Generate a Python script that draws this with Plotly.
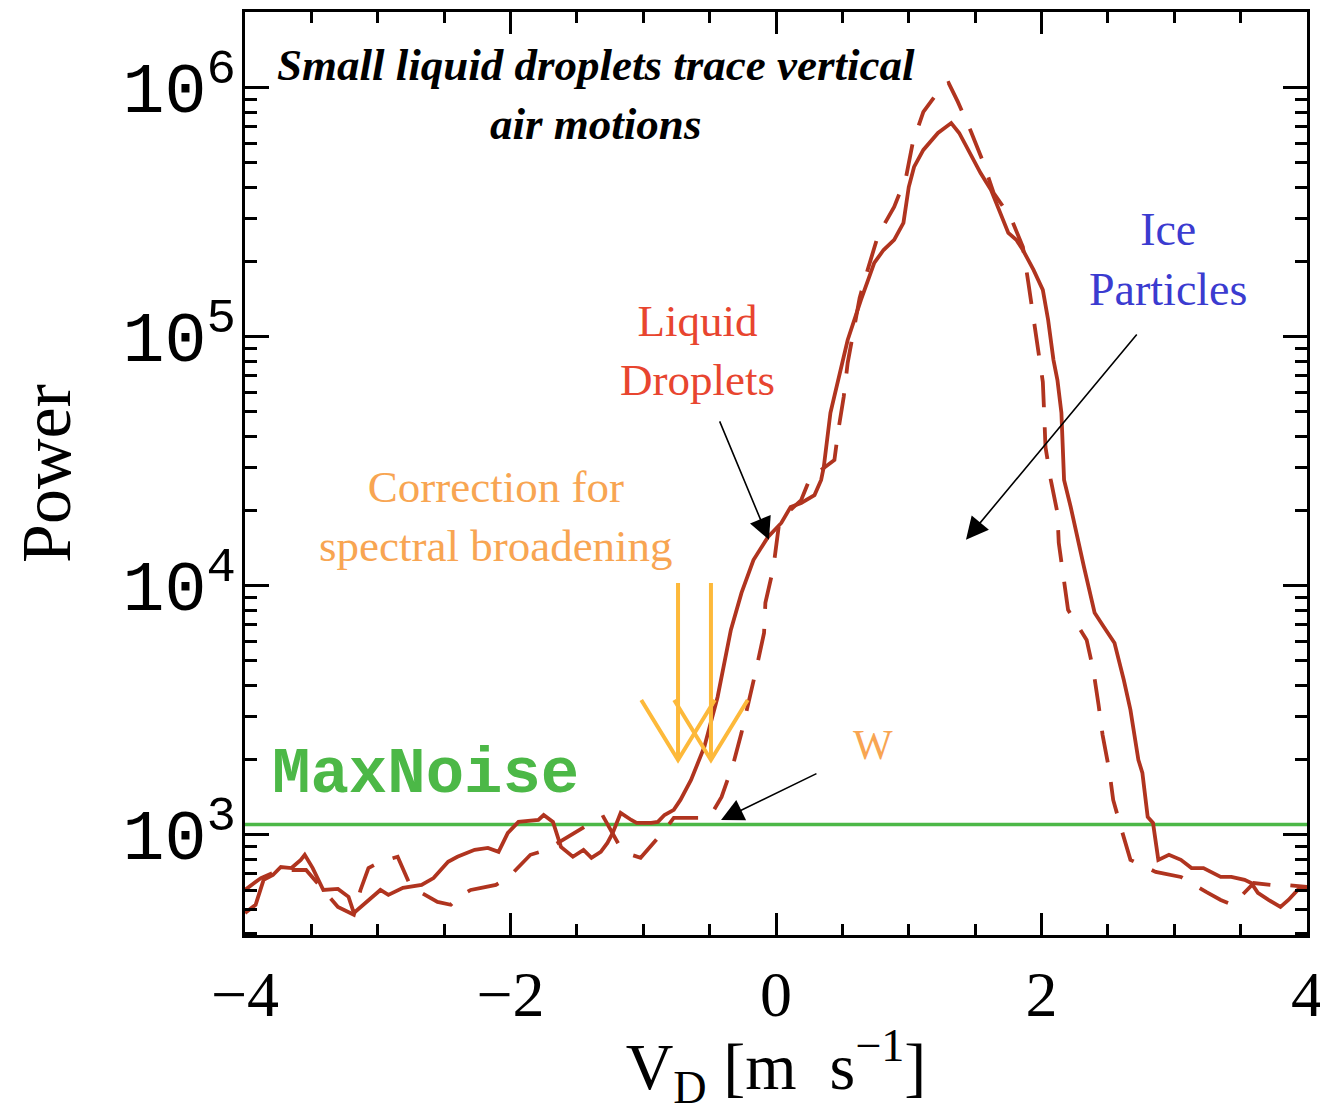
import plotly.graph_objects as go

# ---- data ----
vel_solid = [-4.00, -3.92, -3.86, -3.79, -3.73, -3.65, -3.58, -3.55, -3.49, -3.44, -3.41, -3.30, -3.22,
             -3.18, -3.11, -2.98, -2.92, -2.81, -2.67, -2.58, -2.47, -2.40, -2.27, -2.17, -2.09, -2.02,
             -1.94, -1.79, -1.75, -1.68, -1.62, -1.53, -1.45, -1.39, -1.32, -1.27, -1.23, -1.17, -1.09,
             -1.05, -0.94, -0.89, -0.84, -0.77, -0.72, -0.64, -0.54, -0.44, -0.34, -0.26, -0.17, -0.06,
             0.04, 0.11, 0.19, 0.29, 0.34, 0.36, 0.41, 0.47, 0.54, 0.64, 0.74, 0.81, 0.89, 0.96, 1.00,
             1.04, 1.11, 1.22, 1.32, 1.38, 1.45, 1.54, 1.62, 1.69, 1.75, 1.81, 1.86, 1.94, 2.01, 2.05,
             2.09, 2.12, 2.15, 2.17, 2.22, 2.32, 2.40, 2.47, 2.55, 2.62, 2.67, 2.73, 2.76, 2.80, 2.84,
             2.88, 2.96, 3.05, 3.13, 3.22, 3.35, 3.43, 3.53, 3.58, 3.63, 3.71, 3.80, 3.86, 3.93, 4.00]
power_solid = [486, 524, 660, 690, 743, 736, 794, 832, 736, 641, 601, 607, 564,
               486, 524, 601, 574, 613, 630, 671, 780, 817, 871, 887, 855, 1019,
               1128, 1148, 1202, 1128, 895, 817, 871, 809, 855, 929, 1019, 1225, 1148,
               1117, 1117, 1128, 1202, 1260, 1382, 1663, 2255, 3581, 6653, 9376, 12710, 15740,
               17900, 20750, 21530, 23170, 26650, 30060, 49550, 68400, 97200, 140900, 198200, 223400,
               245500, 287100, 400000, 481600, 563600, 659600, 722800, 659600, 563600, 456000, 389000,
               314800, 261800, 245500, 223400, 185800, 154500, 117000, 80900, 67100, 49550, 26650,
               20750, 11910, 7800, 6840, 5900, 4190, 3177, 2000, 1774, 1181, 1117, 794, 832, 794, 736,
               736, 678, 678, 660, 641, 585, 548, 514, 548, 601, 618]

vel_dashed = [-4.00, -3.88, -3.77, -3.65, -3.54, -3.43, -3.30, -3.18, -3.13, -3.07, -2.98, -2.85, -2.79,
              -2.75, -2.55, -2.45, -2.39, -2.30, -2.22, -2.11, -2.02, -1.85, -1.73, -1.58, -1.43, -1.30,
              -1.17, -1.09, -1.02, -0.85, -0.77, -0.56, -0.49, -0.41, -0.32, -0.26, -0.20, -0.15, -0.09,
              -0.08, -0.02, 0.02, 0.11, 0.19, 0.26, 0.34, 0.44, 0.47, 0.51, 0.54, 0.59, 0.63, 0.69, 0.77,
              0.89, 0.98, 1.03, 1.11, 1.26, 1.30, 1.37, 1.47, 1.56, 1.64, 1.77, 1.86, 1.90, 1.94, 1.97,
              2.01, 2.02, 2.03, 2.07, 2.12, 2.13, 2.17, 2.20, 2.34, 2.39, 2.43, 2.46, 2.51, 2.54, 2.61,
              2.67, 2.86, 2.98, 3.05, 3.24, 3.35, 3.44, 3.60, 3.73, 3.83, 4.00]
power_dashed = [601, 671, 710, 723, 723, 618, 514, 478, 601, 736, 780, 817, 690,
                618, 538, 524, 564, 601, 613, 630, 671, 832, 871, 972, 1087, 1181,
                887, 832, 809, 1028, 1170, 1170, 1202, 1421, 1945, 2570, 3480, 4600, 6470,
                8550, 11800, 17260, 20200, 22130, 27400, 29240, 32070, 42360, 57400, 78700, 109700,
                143500, 185800, 257000, 332700, 439500, 601300, 801000, 1028000, 1047000, 879000,
                665700, 504700, 378400, 300600, 229600, 166300, 120300, 91200, 65900, 49550, 36140,
                26650, 19650, 14890, 10570, 8020, 6070, 4600, 3327, 2523, 1824, 1382, 1019,
                794, 710, 690, 678, 590, 548, 524, 641, 630, 630, 618]

max_noise = 1100
vel_range = [-4, 4]

# correction-for-broadening arrows (velocity, power)
arrow_a_vel = [-1.015, -0.738, -0.461, None, -0.738, -0.738]
arrow_b_vel = [-0.767, -0.490, -0.213, None, -0.490, -0.490]
arrow_pow = [3480, 2000, 3480, None, 2000, 10280]

x_tickvals = [-4, -2, 0, 2, 4]
x_ticktext = ["\u22124", "\u22122", "0", "2", "4"]
y_tickvals = [1e3, 1e4, 1e5, 1e6]
y_ticktext = ["10<sup>3</sup>", "10<sup>4</sup>", "10<sup>5</sup>", "10<sup>6</sup>"]

RED = "#b0341f"
GREEN = "#4cb847"
GOLD = "#fdb93a"

fig = go.Figure()
fig.add_trace(go.Scatter(x=vel_range, y=[max_noise, max_noise], mode="lines",
                         line=dict(color=GREEN, width=3.5), hoverinfo="skip", showlegend=False))
fig.add_trace(go.Scatter(x=vel_dashed, y=power_dashed, mode="lines",
                         line=dict(color=RED, width=3.8, dash="32px,20px"), showlegend=False))
fig.add_trace(go.Scatter(x=vel_solid, y=power_solid, mode="lines",
                         line=dict(color=RED, width=3.8), showlegend=False))
for av in (arrow_a_vel, arrow_b_vel):
    fig.add_trace(go.Scatter(x=av, y=arrow_pow, mode="lines",
                             line=dict(color=GOLD, width=4), hoverinfo="skip", showlegend=False))

serif = "Liberation Serif"

annos = [
    dict(x=-1.356, y=5.975, text="<b><i>Small liquid droplets trace vertical<br>air motions</i></b>",
         font=dict(family=serif, size=45, color="black")),
    dict(x=-0.588, y=4.944, text="Liquid<br>Droplets", font=dict(family=serif, size=45, color="#e8452f")),
    dict(x=2.953, y=5.313, text="Ice<br>Particles", font=dict(family=serif, size=46, color="#3b3bd0")),
    dict(x=-2.109, y=4.277, text="Correction for<br>spectral broadening",
         font=dict(family=serif, size=45, color="#f8a552")),
    dict(x=0.731, y=3.361, text="W", font=dict(family=serif, size=42, color="#f8a552")),
    dict(x=-2.637, y=3.241, text="<b>MaxNoise</b>", font=dict(family="Liberation Mono", size=64, color=GREEN)),
]
for a in annos:
    fig.add_annotation(xref="x", yref="y", showarrow=False, **a)

arrows = [
    dict(ax=-0.429, ay=4.667, x=-0.053, y=4.185),
    dict(ax=2.727, ay=5.016, x=1.431, y=4.185),
    dict(ax=0.316, ay=3.249, x=-0.414, y=3.060),
]
for a in arrows:
    fig.add_annotation(xref="x", yref="y", axref="x", ayref="y", text="", showarrow=True,
                       arrowhead=2, arrowsize=2.8, arrowwidth=1.6, arrowcolor="black", **a)

fig.update_layout(
    width=1320, height=1113,
    margin=dict(l=245, r=13, t=12, b=178),
    paper_bgcolor="white", plot_bgcolor="white",
    xaxis=dict(range=[-4, 4], tickvals=x_tickvals, ticktext=x_ticktext, automargin=False,
               ticklabeloverflow="allow",
               ticks="inside", ticklen=22, tickwidth=3, tickcolor="black",
               minor=dict(dtick=0.5, ticks="inside", ticklen=11, tickwidth=3, tickcolor="black", showgrid=False),
               showline=True, linewidth=3, linecolor="black", mirror="allticks",
               showgrid=False, zeroline=False,
               tickfont=dict(family=serif, size=64, color="black"), ticklabelstandoff=1,
               title=dict(text="V<sub>D</sub> [m  s<sup>\u22121</sup>]",
                          font=dict(family=serif, size=66, color="black"), standoff=12)),
    yaxis=dict(type="log", range=[2.598, 6.305], tickvals=y_tickvals, ticktext=y_ticktext, automargin=False,
               ticklabeloverflow="allow",
               ticks="inside", ticklen=24, tickwidth=3, tickcolor="black",
               minor=dict(dtick="D1", ticks="inside", ticklen=12, tickwidth=3, tickcolor="black", showgrid=False),
               showline=True, linewidth=3, linecolor="black", mirror="allticks",
               showgrid=False, zeroline=False,
               tickfont=dict(family="Liberation Mono", size=70, color="black"), ticklabelstandoff=-8,
               title=dict(text="Power", font=dict(family=serif, size=70, color="black"), standoff=30)),
)

fig.write_html("out.html")
